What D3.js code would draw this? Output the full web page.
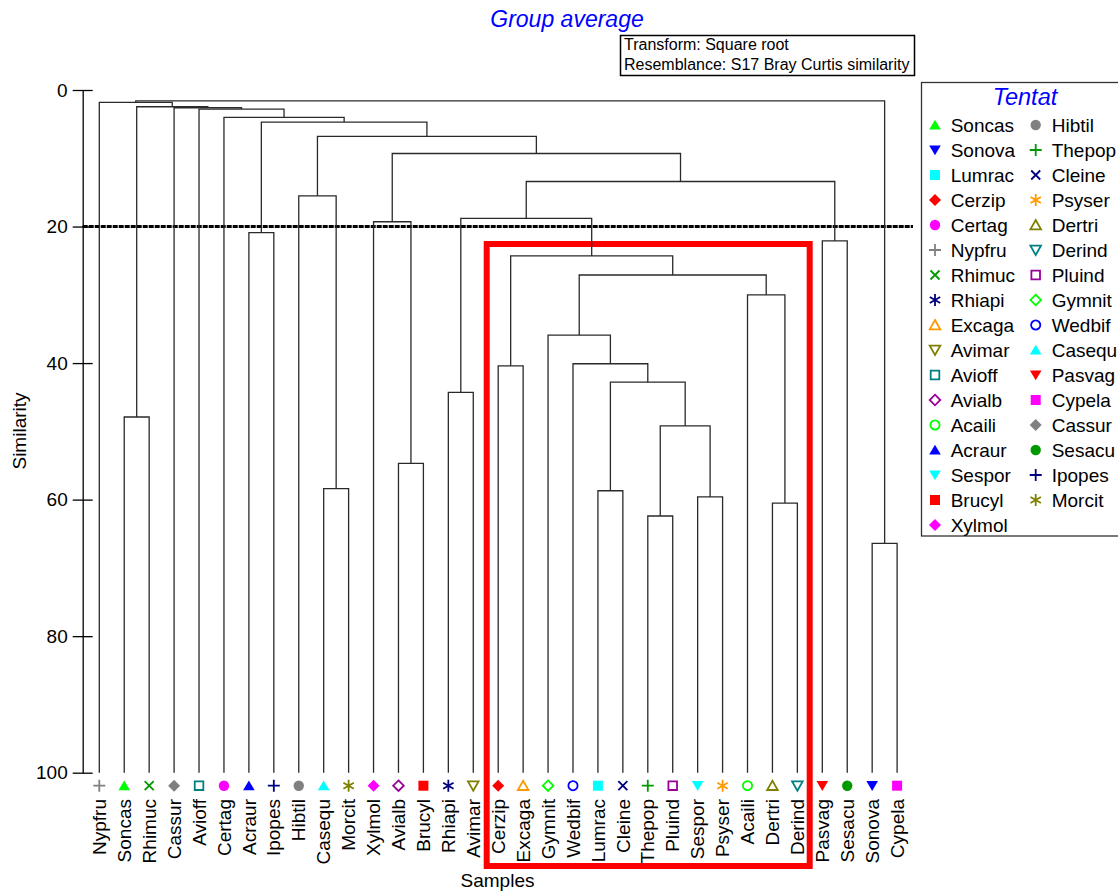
<!DOCTYPE html>
<html>
<head>
<meta charset="utf-8">
<script src="https://cdn.jsdelivr.net/npm/d3@7"></script>
<style>
  body { margin: 0; background: #fff; }
  text { font-family: "Liberation Sans", Arial, sans-serif; }
</style>
</head>
<body>
<div id="dendro"></div>
<script>
// leaf order along the x axis
const leafOrder = [
  "Nypfru", "Soncas", "Rhimuc", "Cassur", "Avioff", "Certag", "Acraur", "Ipopes",
  "Hibtil", "Casequ", "Morcit", "Xylmol", "Avialb", "Brucyl", "Rhiapi", "Avimar",
  "Cerzip", "Excaga", "Gymnit", "Wedbif", "Lumrac", "Cleine", "Thepop", "Pluind",
  "Sespor", "Psyser", "Acaili", "Dertri", "Derind", "Pasvag", "Sesacu", "Sonova", "Cypela"
];

// merges: [id, left child, right child, similarity]
const merges = [
  ["m1", "Soncas", "Rhimuc", 47.9],
  ["m2", "Acraur", "Ipopes", 20.9],
  ["m3", "Casequ", "Morcit", 58.4],
  ["m4", "Hibtil", "m3", 15.5],
  ["m5", "Avialb", "Brucyl", 54.7],
  ["m6", "Xylmol", "m5", 19.3],
  ["m7", "Rhiapi", "Avimar", 44.3],
  ["m8", "Cerzip", "Excaga", 40.4],
  ["m9", "Lumrac", "Cleine", 58.7],
  ["m10", "Thepop", "Pluind", 62.4],
  ["m11", "Sespor", "Psyser", 59.6],
  ["m12", "m10", "m11", 49.2],
  ["m13", "m9", "m12", 42.8],
  ["m14", "Wedbif", "m13", 40.1],
  ["m15", "Gymnit", "m14", 35.9],
  ["m16", "Dertri", "Derind", 60.5],
  ["m17", "Acaili", "m16", 30.0],
  ["m18", "m15", "m17", 27.1],
  ["m19", "m8", "m18", 24.3],
  ["m20", "m7", "m19", 18.8],
  ["m21", "Pasvag", "Sesacu", 22.1],
  ["m22", "m20", "m21", 13.4],
  ["m23", "m6", "m22", 9.3],
  ["m24", "m4", "m23", 6.8],
  ["m25", "m2", "m24", 4.7],
  ["m26", "Certag", "m25", 4.0],
  ["m27", "Avioff", "m26", 2.8],
  ["m28", "Cassur", "m27", 2.6],
  ["m29", "m1", "m28", 2.45],
  ["m30", "Nypfru", "m29", 1.8],
  ["m31", "Sonova", "Cypela", 66.4],
  ["m32", "m30", "m31", 1.6]
];

const yTicks = [0, 20, 40, 60, 80, 100];
const cutLevel = 20;

// legend (Tentat factor), in legend order
const legendNames = [
  "Soncas", "Sonova", "Lumrac", "Cerzip", "Certag", "Nypfru", "Rhimuc", "Rhiapi",
  "Excaga", "Avimar", "Avioff", "Avialb", "Acaili", "Acraur", "Sespor", "Brucyl", "Xylmol",
  "Hibtil", "Thepop", "Cleine", "Psyser", "Dertri", "Derind", "Pluind", "Gymnit",
  "Wedbif", "Casequ", "Pasvag", "Cypela", "Cassur", "Sesacu", "Ipopes", "Morcit"
];
const legendShapes = [
  "triUp", "triDown", "square", "diamond", "circle", "plus", "cross", "star",
  "triUpO", "triDownO", "squareO", "diamondO", "circleO", "triUp", "triDown", "square", "diamond",
  "circle", "plus", "cross", "star", "triUpO", "triDownO", "squareO", "diamondO",
  "circleO", "triUp", "triDown", "square", "diamond", "circle", "plus", "star"
];
const legendColors = [
  "#00ff00", "#0000ff", "#00ffff", "#ff0000", "#ff00ff", "#808080", "#009900", "#000080",
  "#ff9900", "#808000", "#008080", "#990099", "#00ff00", "#0000ff", "#00ffff", "#ff0000", "#ff00ff",
  "#808080", "#009900", "#000080", "#ff9900", "#808000", "#008080", "#990099", "#00ff00",
  "#0000ff", "#00ffff", "#ff0000", "#ff00ff", "#808080", "#009900", "#000080", "#808000"
];

const width = 1118;
const height = 894;

const svg = d3.select("#dendro")
  .append("svg")
  .attr("width", width)
  .attr("height", height);

const xScale = d3.scalePoint().domain(leafOrder).range([99.3, 897.1]);
const yScale = d3.scaleLinear().domain([0, 100]).range([90, 772.7]);

function drawMarker(g, shape, color) {
  var open = shape.endsWith("O");
  var s = open ? shape.slice(0, -1) : shape;
  var fill = open ? "none" : color;
  var sw = open ? 1.8 : 0;
  var d;
  if (s == "triUp") d = open ? "M0,-5L5.3,4.3L-5.3,4.3Z" : "M0,-5.2L5.8,4.6L-5.8,4.6Z";
  if (s == "triDown") d = open ? "M0,5L5.3,-4.3L-5.3,-4.3Z" : "M0,5.2L5.8,-4.6L-5.8,-4.6Z";
  if (s == "square") d = open ? "M-4.3,-4.3H4.3V4.3H-4.3Z" : "M-5,-5H5V5H-5Z";
  if (s == "diamond") d = open ? "M0,-5.3L5.3,0L0,5.3L-5.3,0Z" : "M0,-6L6,0L0,6L-6,0Z";
  if (s == "circle") {
    g.append("circle").attr("r", open ? 4.6 : 5.2)
      .attr("fill", fill).attr("stroke", color).attr("stroke-width", sw);
    return;
  }
  if (s == "plus") {
    d = "M-6,0H6M0,-6V6";
    fill = "none"; sw = 1.8;
  }
  if (s == "cross") {
    d = "M-4.5,-4.5L4.5,4.5M-4.5,4.5L4.5,-4.5";
    fill = "none"; sw = 1.8;
  }
  if (s == "star") {
    d = "M0,-6V6M-5.2,-3L5.2,3M-5.2,3L5.2,-3";
    fill = "none"; sw = 1.8;
  }
  g.append("path").attr("d", d)
    .attr("fill", fill).attr("stroke", color).attr("stroke-width", sw);
}

// title
svg.append("text")
  .attr("x", 567).attr("y", 27)
  .attr("text-anchor", "middle")
  .style("font-size", "23px").style("font-style", "italic")
  .attr("fill", "#0000ff")
  .text("Group average");

// info box
svg.append("rect")
  .attr("x", 620.5).attr("y", 35.5).attr("width", 294).attr("height", 40)
  .attr("fill", "none").attr("stroke", "#000").attr("stroke-width", 1.5);
svg.append("text").attr("x", 624).attr("y", 50).style("font-size", "16px")
  .text("Transform: Square root");
svg.append("text").attr("x", 624).attr("y", 70).style("font-size", "16px")
  .text("Resemblance: S17 Bray Curtis similarity");

// red box around the group
svg.append("rect")
  .attr("x", 486.7).attr("y", 244).attr("width", 323).attr("height", 622)
  .attr("fill", "none").attr("stroke", "#ff0000").attr("stroke-width", 6);

// y axis with ticks crossing the line
const yAxisG = svg.append("g")
  .attr("transform", "translate(82.7,0)")
  .call(d3.axisLeft(yScale).tickValues(yTicks).tickSize(10).tickSizeOuter(0).tickPadding(5));
yAxisG.select(".domain").attr("stroke", "#000").attr("stroke-width", 1.3);
yAxisG.selectAll(".tick line").attr("x1", 10).attr("stroke", "#000").attr("stroke-width", 1.3);
yAxisG.selectAll(".tick text")
  .style("font-size", "19px").style("font-family", "'Liberation Sans', Arial, sans-serif")
  .attr("fill", "#000");

svg.append("text")
  .attr("transform", "translate(19,431) rotate(-90)")
  .attr("text-anchor", "middle").attr("dy", "0.35em")
  .style("font-size", "19px")
  .text("Similarity");

// cut line at 20
svg.append("line")
  .attr("x1", 82.7).attr("x2", 913)
  .attr("y1", yScale(cutLevel)).attr("y2", yScale(cutLevel))
  .attr("stroke", "#000").attr("stroke-width", 3)
  .attr("stroke-dasharray", "5,1");

// dendrogram
var nodeX = {};
var nodeH = {};
leafOrder.forEach(function (n) {
  nodeX[n] = xScale(n);
  nodeH[n] = 100;
});
const g = svg.append("g");
merges.forEach(function (m) {
  var id = m[0], l = m[1], r = m[2], sim = m[3];
  nodeX[id] = (nodeX[l] + nodeX[r]) / 2;
  nodeH[id] = sim;
  g.append("path")
    .attr("d",
      "M" + nodeX[l] + "," + yScale(nodeH[l]) +
      "V" + yScale(sim) +
      "H" + nodeX[r] +
      "V" + yScale(nodeH[r]))
    .attr("fill", "none")
    .attr("stroke", "#2a2a2a")
    .attr("stroke-width", 1.3);
});

// leaf symbols and labels
leafOrder.forEach(function (n) {
  var i = legendNames.indexOf(n);
  var mg = svg.append("g").attr("transform", "translate(" + xScale(n) + ",785.7)");
  drawMarker(mg, legendShapes[i], legendColors[i]);
  svg.append("text")
    .attr("transform", "translate(" + xScale(n) + ",799) rotate(-90)")
    .attr("text-anchor", "end").attr("dy", "0.35em")
    .style("font-size", "19px")
    .text(n);
});

svg.append("text")
  .attr("x", 497.5).attr("y", 887)
  .attr("text-anchor", "middle")
  .style("font-size", "19px")
  .text("Samples");

// legend
const legend = svg.append("g");
legend.append("rect")
  .attr("x", 921.5).attr("y", 82.5).attr("width", 210).attr("height", 453.5)
  .attr("fill", "#fff").attr("stroke", "#333").attr("stroke-width", 1.3);
legend.append("text")
  .attr("x", 1025).attr("y", 105)
  .attr("text-anchor", "middle")
  .style("font-size", "23.5px").style("font-style", "italic")
  .attr("fill", "#0000ff")
  .text("Tentat");
legendNames.forEach(function (n, i) {
  var col = i < 17 ? 0 : 1;
  var row = i < 17 ? i : i - 17;
  var sx = col == 0 ? 935 : 1035.7;
  var tx = col == 0 ? 950.7 : 1051.7;
  var y = 125 + row * 25;
  var mg = legend.append("g").attr("transform", "translate(" + sx + "," + y + ")");
  drawMarker(mg, legendShapes[i], legendColors[i]);
  legend.append("text")
    .attr("x", tx).attr("y", y).attr("dy", "0.35em")
    .style("font-size", "19px")
    .text(n);
});
</script>
</body>
</html>
